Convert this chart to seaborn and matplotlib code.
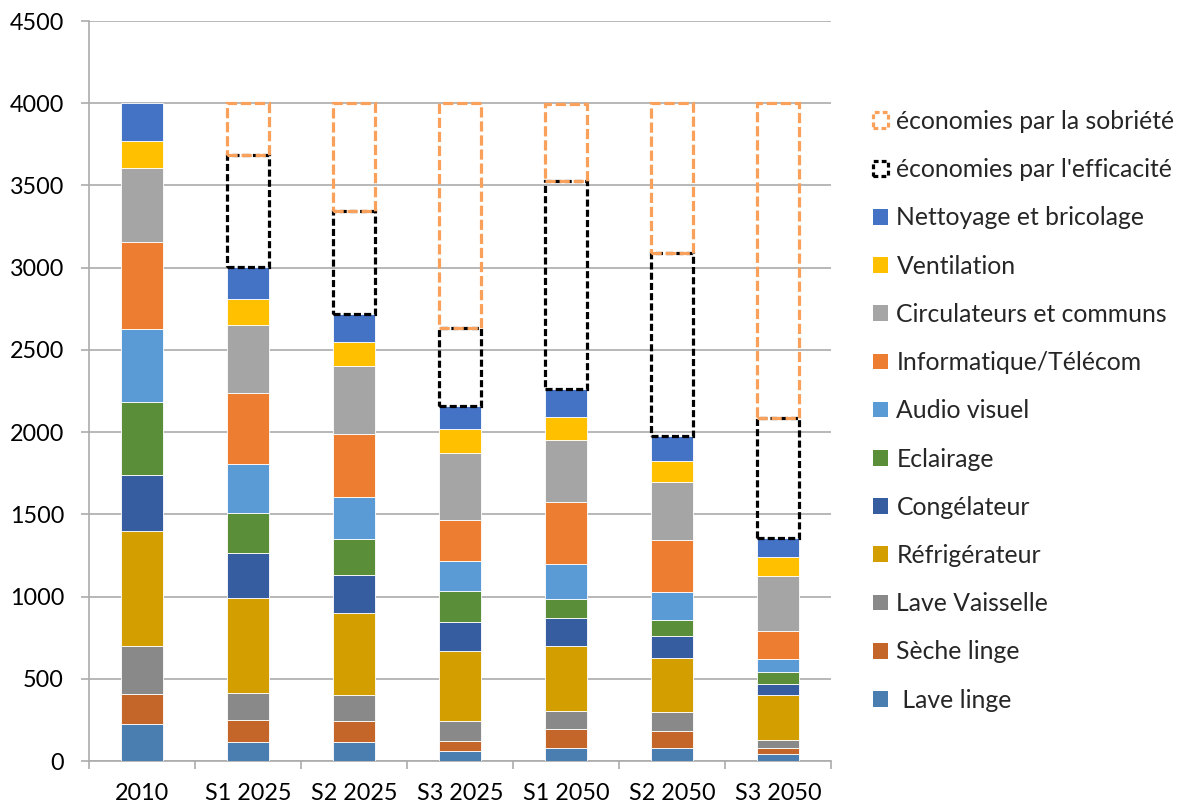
import numpy as np
import pandas as pd
import matplotlib
matplotlib.use("Agg")
import matplotlib.pyplot as plt
from matplotlib.patches import Patch
import seaborn as sns

# ---- data ----
categories = ["2010", "S1 2025", "S2 2025", "S3 2025", "S1 2050", "S2 2050", "S3 2050"]

lave_linge = [225, 114, 114, 63, 79, 79, 40]
seche_linge = [185, 135, 130, 61, 114, 103, 37]
lave_vaisselle = [291, 164, 159, 122, 114, 119, 48]
refrigerateur = [695, 576, 494, 423, 391, 328, 275]
congelateur = [346, 275, 233, 177, 169, 130, 66]
eclairage = [439, 243, 222, 188, 116, 98, 74]
audio_visuel = [447, 301, 256, 182, 214, 169, 79]
informatique = [526, 431, 381, 249, 381, 317, 172]
circulateurs = [452, 415, 412, 410, 375, 354, 333]
ventilation = [167, 153, 148, 145, 137, 127, 119]
nettoyage = [227, 196, 167, 137, 174, 151, 116]
eco_efficacite = [0, 681, 629, 479, 1266, 1113, 724]
eco_sobriete = [0, 316, 656, 1364, 468, 912, 1917]

series = [
    (" Lave linge", lave_linge, "#4A7EB1"),
    ("Sèche linge", seche_linge, "#C4652A"),
    ("Lave Vaisselle", lave_vaisselle, "#898989"),
    ("Réfrigérateur", refrigerateur, "#D29E00"),
    ("Congélateur", congelateur, "#355DA0"),
    ("Eclairage", eclairage, "#5B8E39"),
    ("Audio visuel", audio_visuel, "#5B9BD5"),
    ("Informatique/Télécom", informatique, "#ED7D31"),
    ("Circulateurs et communs", circulateurs, "#A5A5A5"),
    ("Ventilation", ventilation, "#FFC000"),
    ("Nettoyage et bricolage", nettoyage, "#4472C4"),
]
savings = [
    ("économies par l'efficacité", eco_efficacite, "black", (0, (2.2, 1.0))),
    ("économies par la sobriété", eco_sobriete, "#F9A15B", (0, (3.2, 1.2))),
]

# ---- style ----
sns.set_style("white")
plt.rcParams["font.family"] = ["Lato", "DejaVu Sans"]
FS = 16.8
LFS = 17.8

fig = plt.figure(figsize=(11.81, 8.05), dpi=100)
ax = fig.add_axes([89 / 1181, 44 / 805, 742 / 1181, 740 / 805])

bottom = np.zeros(len(categories))
for label, vals, col in series:
    vals = np.array(vals, dtype=float)
    sns.barplot(x=categories, y=vals, order=categories, color=col, width=0.4,
                bottom=bottom.copy(), edgecolor="white", linewidth=0.6,
                saturation=1, ax=ax, zorder=3)
    bottom += vals

for label, vals, col, ls in savings:
    vals = np.array(vals, dtype=float)
    mask = vals > 0
    cats_sub = [c for c, m in zip(categories, mask) if m]
    sns.barplot(x=cats_sub, y=vals[mask], order=categories, color=col, width=0.4,
                bottom=bottom[mask].copy(), fill=False, edgecolor=col,
                linewidth=2.3, linestyle=ls, ax=ax, zorder=4)
    bottom += vals

ax.set_xlim(-0.5, len(categories) - 0.5)
ax.set_ylim(0, 4500)
ax.set_yticks(np.arange(0, 4501, 500))
ax.yaxis.grid(True, color="#ABABAB", linewidth=1.2, zorder=0)
ax.xaxis.grid(False)
ax.set_axisbelow(True)
ax.set_xlabel("")
ax.set_ylabel("")

for s in ["top", "right"]:
    ax.spines[s].set_visible(False)
for s in ["left", "bottom"]:
    ax.spines[s].set_color("#ABABAB")
    ax.spines[s].set_linewidth(1.2)

ax.tick_params(axis="y", length=6, width=1.2, color="#ABABAB", pad=12,
               labelsize=FS, labelcolor="black", left=True)
ax.tick_params(axis="x", which="major", length=0, pad=15.5, labelsize=FS,
               labelcolor="black")
ax.set_xticks(np.arange(-0.5, len(categories)), minor=True)
ax.tick_params(axis="x", which="minor", length=6, width=1.2, color="#ABABAB",
               bottom=True)

# ---- legend ----
handles = []
labels = []
for label, vals, col, ls in reversed(savings):
    handles.append(Patch(facecolor="none", edgecolor=col, linewidth=2.3, linestyle=(0, (1.5, 1.0))))
    labels.append(label)
for label, vals, col in reversed(series):
    handles.append(Patch(facecolor=col, edgecolor="none"))
    labels.append(label)

fig.legend(handles, labels, loc="upper left", bbox_to_anchor=(873 / 1181, 1 - 110 / 805),
           frameon=False, fontsize=LFS, handlelength=0.6, handleheight=0.6,
           handletextpad=0.35, labelspacing=1.02, borderpad=0, borderaxespad=0)

fig.savefig("out.png", dpi=100)
